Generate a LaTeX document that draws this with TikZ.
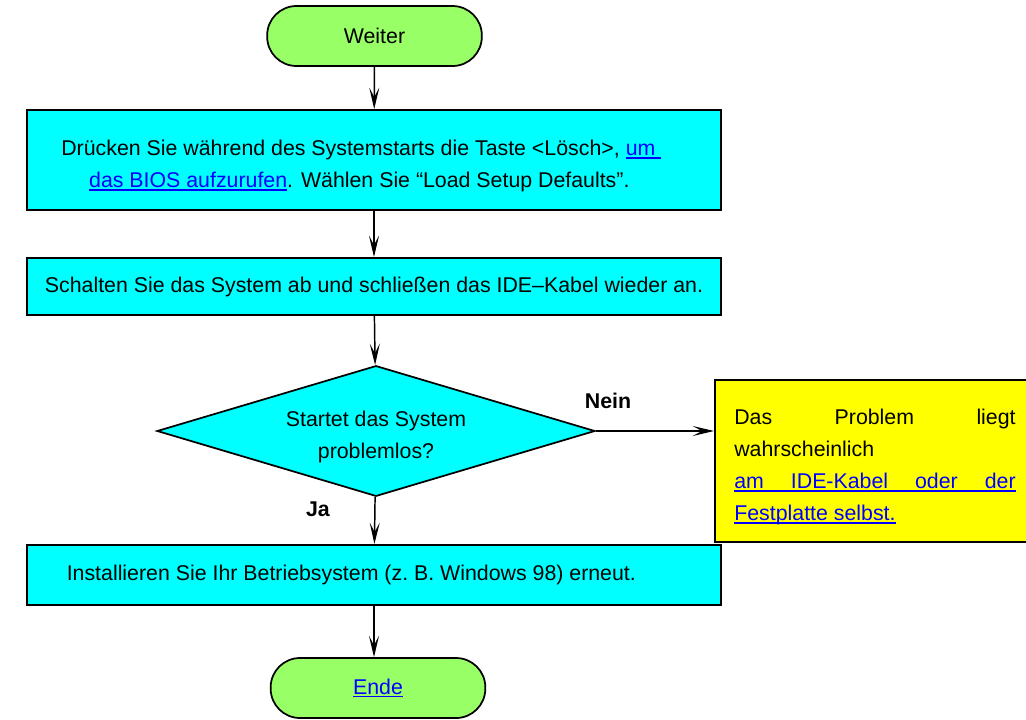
\documentclass[tikz,border=0pt]{standalone}
\usepackage{fontspec}
\setmainfont{Liberation Sans}
\usetikzlibrary{arrows.meta,positioning,calc,shapes.geometric}
\definecolor{flowcyan}{RGB}{0,255,255}
\definecolor{flowgreen}{RGB}{153,255,102}
\definecolor{flowyellow}{RGB}{255,255,0}
\definecolor{linkblue}{RGB}{0,0,255}
\newsavebox{\lnkbox}
\newcommand{\lnk}[1]{{\color{linkblue}\sbox{\lnkbox}{#1}\rlap{\rule[-2.6pt]{\wd\lnkbox}{1.3pt}}\usebox{\lnkbox}}}
\newcommand{\jline}[1]{{\spaceskip=0.28em plus 10em\makebox[211pt][s]{#1}}}
\newcommand{\lift}{\rule{0pt}{20pt}}
\newcommand{\pad}[1]{\hspace*{#1}}

\begin{document}
\begin{tikzpicture}[x=0.75pt,y=-0.75pt,font=\fontsize{16}{24}\selectfont,
  term/.style={draw,line width=1.3pt,fill=flowgreen,rounded corners=22pt,minimum width=161pt,minimum height=45pt},
  stepbox/.style={draw,line width=1.5pt,fill=flowcyan,minimum width=520.5pt,align=center},
  ask/.style={diamond,draw,line width=1.3pt,fill=flowcyan,aspect=3.3,minimum width=328.5pt,minimum height=98pt,inner sep=0pt,align=center},
  note/.style={draw,line width=1.5pt,fill=flowyellow,minimum width=240pt,minimum height=121.5pt,align=left},
  flow/.style={line width=1.1pt,-{Stealth[length=16pt,width=7.5pt,inset=7pt]}}]
  \useasboundingbox (0,0) rectangle (1026,719);

  \node[term] (weiter) at (374.5,36) {Weiter};
  \node[stepbox,minimum height=75pt] (bios) at (374,160)
    {\lift Drücken Sie während des Systemstarts die Taste <Lösch>, \lnk{um\ }\pad{19pt}\\
     \lnk{das BIOS aufzurufen}. Wählen Sie “Load Setup Defaults”.\pad{22pt}};
  \node[stepbox,minimum height=42.75pt] (ide) at (374,286.5)
    {Schalten Sie das System ab und schließen das IDE–Kabel wieder an.};
  \node[ask] (frage) at (376,431) {\lift Startet das System\\problemlos?};
  \node[note] (kabel) at (875,461)
    {\lift\jline{Das Problem liegt}\\wahrscheinlich\\
     \lnk{\jline{am IDE-Kabel oder der}}\\\lnk{Festplatte selbst.}};
  \node[stepbox,minimum height=45pt] (install) at (374,575)
    {Installieren Sie Ihr Betriebsystem (z.\ B. Windows 98) erneut.\pad{34pt}};
  \node[term] (ende) at (378,688) {\lnk{Ende}};

  \node[font=\fontsize{16}{24}\selectfont\bfseries] (nein) at (608,401) {Nein};
  \node[font=\fontsize{16}{24}\selectfont\bfseries] (ja) at (318,509) {Ja};

  \draw[flow] (weiter) -- (bios);
  \draw[flow] (bios) -- (ide);
  \draw[flow] (ide) -- (frage);
  \draw[flow] (frage.east) -- (frage.east -| kabel.west);
  \draw[flow] (frage) -- (install);
  \draw[flow] (install.south) -- (install.south |- ende.north);
\end{tikzpicture}
\end{document}
